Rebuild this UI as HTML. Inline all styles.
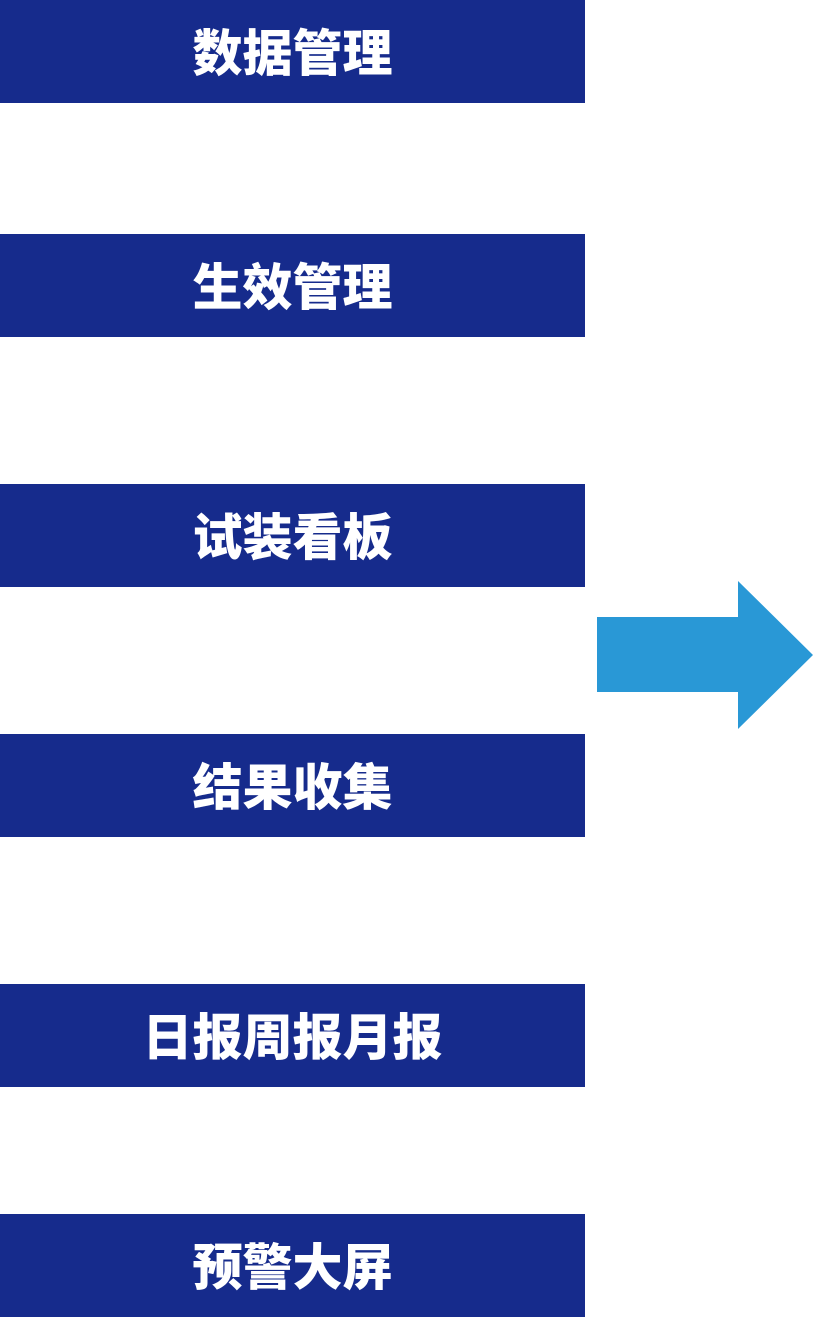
<!DOCTYPE html>
<html><head><meta charset="utf-8"><style>
html,body{margin:0;padding:0;background:#fff;width:814px;height:1318px;overflow:hidden;position:relative}
.b{position:absolute;left:0;width:585px;height:103px;box-sizing:border-box;padding-bottom:4px;background:#162B8C;color:#fff;font:900 50px "Liberation Sans","Noto Sans CJK SC",sans-serif;display:flex;align-items:center;justify-content:center;letter-spacing:0}
</style></head><body>
<div class="b" style="top:0">数据管理</div>
<div class="b" style="top:234px">生效管理</div>
<div class="b" style="top:484px">试装看板</div>
<div class="b" style="top:734px">结果收集</div>
<div class="b" style="top:984px">日报周报月报</div>
<div class="b" style="top:1214px">预警大屏</div>
<svg style="position:absolute;left:0;top:0" width="814" height="1318"><polygon points="597,617 738,617 738,581 813,655 738,729 738,692 597,692" fill="#2998D6"/></svg>
</body></html>
